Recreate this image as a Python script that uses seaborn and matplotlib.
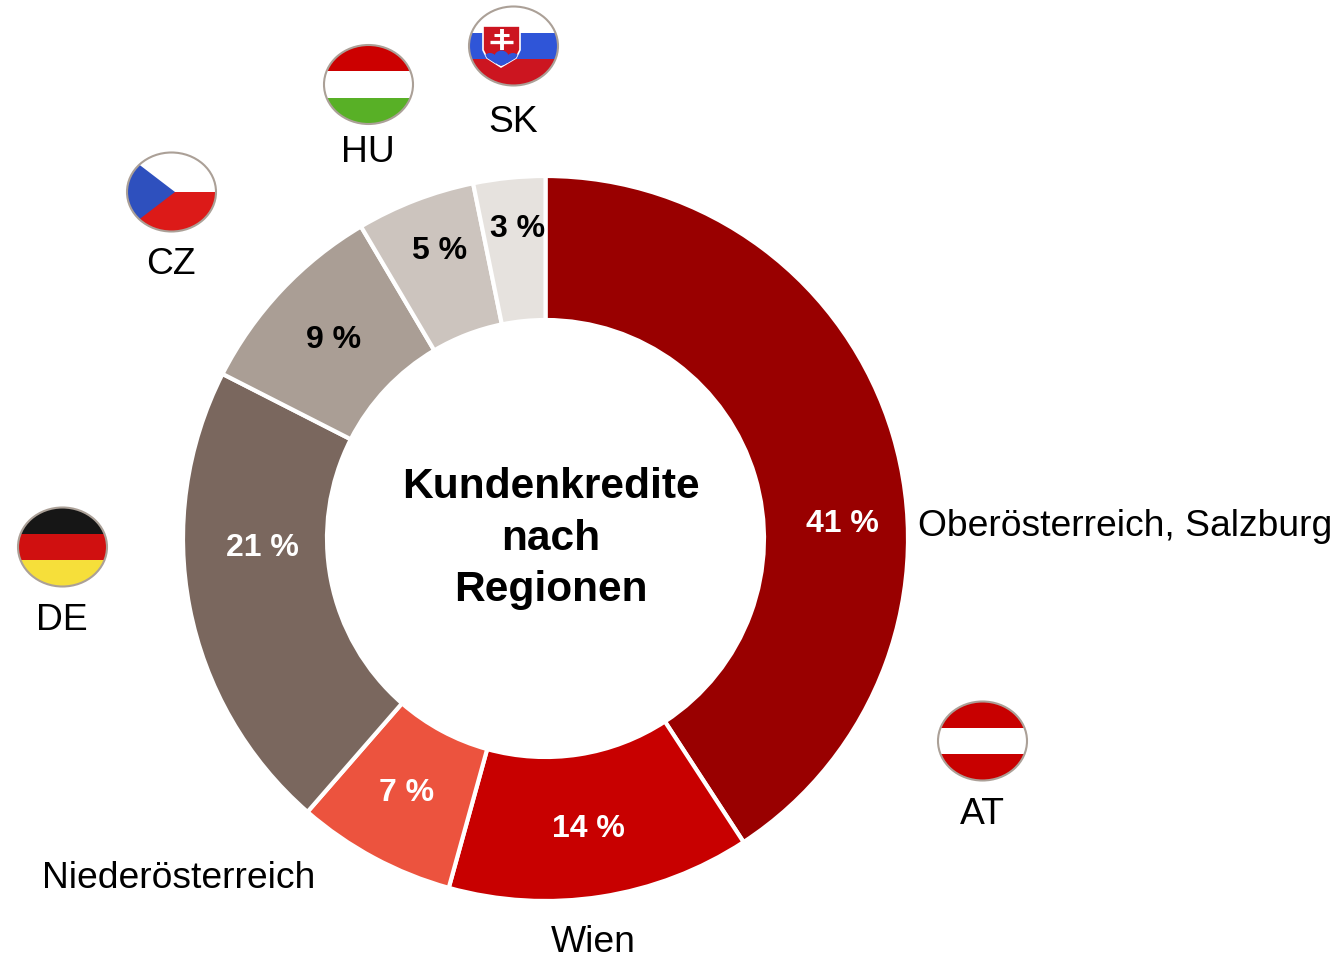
import matplotlib
matplotlib.use("Agg")
import matplotlib.pyplot as plt
from matplotlib.patches import Ellipse, Rectangle, Polygon, Circle
import seaborn as sns

regions = ["Oberösterreich, Salzburg", "Wien", "Niederösterreich", "DE", "CZ", "HU", "SK"]
# slice sizes as measured from the ring, the printed labels are rounded
shares = [40.8, 13.5, 7.1, 21.1, 9.0, 5.3, 3.2]
share_labels = ["41 %", "14 %", "7 %", "21 %", "9 %", "5 %", "3 %"]
colors = ["#990000", "#C80000", "#EC533E", "#7A675E", "#AA9E95", "#CCC4BE", "#E6E2DE"]
share_text = ["#FFFFFF", "#FFFFFF", "#FFFFFF", "#FFFFFF", "#000000", "#000000", "#000000"]
center_title = "Kundenkredite\nnach\nRegionen"

sns.set_theme(style="white")
plt.rcParams["font.family"] = ["Liberation Sans", "DejaVu Sans"]

fig = plt.figure(figsize=(13.4, 9.57), dpi=100)
ax = fig.add_axes([0, 0, 1, 1])

# y axis is flipped, so counterclock here runs clockwise on screen
ax.pie(shares, colors=sns.color_palette(colors), startangle=-90, counterclock=True,
	center=(545.5, 538.5), radius=362.5, frame=True,
	wedgeprops=dict(width=144, edgecolor="white", linewidth=3))
ax.set_xlim(0, 1340)
ax.set_ylim(957, 0)   # pixel coords, y down like the picture
ax.set_aspect("auto")
ax.axis("off")

share_pos = [(842.5, 524), (588, 829), (407, 793), (262, 548), (334, 340), (440, 251), (517.5, 229)]
for lab, col, (x, y) in zip(share_labels, share_text, share_pos):
	ax.text(x, y, lab, color=col, fontsize=23, fontweight="bold", ha="center", va="center")

ax.text(551, 538.5, center_title, fontsize=30.6, fontweight="bold", ha="center", va="center",
	linespacing=1.37, color="black")

label_pos = [(1125.5, 527), (593, 943), (179, 879), (62, 620), (171, 264), (368, 153), (513.5, 123)]
for name, (x, y) in zip(regions, label_pos):
	ax.text(x, y, name, fontsize=26.8, ha="center", va="center", color="black")
ax.text(982, 814, "AT", fontsize=26.8, ha="center", va="center", color="black")


def flag_base(cx, cy):
	clip = Ellipse((cx, cy), 89, 79, facecolor="white", edgecolor="none", zorder=3)
	ax.add_patch(clip)
	return clip


def flag_ring(cx, cy):
	ax.add_patch(Ellipse((cx, cy), 89, 79, facecolor="none", edgecolor="#ABA097", linewidth=1.5, zorder=6))


def stripes(cx, cy, cols):
	clip = flag_base(cx, cy)
	h = 79 / len(cols)
	for i, c in enumerate(cols):
		r = Rectangle((cx - 46, cy - 39.5 + i * h), 92, h, facecolor=c, edgecolor="none", zorder=4)
		ax.add_patch(r)
		r.set_clip_path(clip)
	flag_ring(cx, cy)


stripes(982.5, 741, ["#C80000", "#FFFFFF", "#C80000"])
stripes(62.5, 547, ["#161616", "#D01010", "#F6DF3A"])
stripes(368.5, 84.5, ["#CC0000", "#FFFFFF", "#58B026"])
stripes(513.5, 46, ["#FFFFFF", "#2F55D8", "#CC1520"])

# slovak shield
shield = Polygon([(483, 26), (520, 26), (520, 50), (516, 58), (501, 67), (487, 58), (483, 50)],
	facecolor="#CC1520", edgecolor="white", linewidth=1.2, zorder=5)
ax.add_patch(shield)
for hx, hy, hr in [(490, 60, 7), (501.5, 58, 7.5), (513, 60, 7)]:
	c = Circle((hx, hy), hr, facecolor="#2F55D8", edgecolor="none", zorder=5.2)
	ax.add_patch(c)
	c.set_clip_path(shield)
ax.plot([501.5, 501.5], [29, 50], color="white", lw=2.8, zorder=5.5, solid_capstyle="butt")
ax.plot([494, 509], [35, 35], color="white", lw=2.2, zorder=5.5, solid_capstyle="butt")
ax.plot([490, 513], [42, 42], color="white", lw=2.4, zorder=5.5, solid_capstyle="butt")

# czech flag
clip = flag_base(171.5, 192)
r = Rectangle((125, 192), 92, 41, facecolor="#DC1A18", edgecolor="none", zorder=4)
ax.add_patch(r)
r.set_clip_path(clip)
t = Polygon([(124, 153), (175, 192), (124, 231)], facecolor="#2E50BE", edgecolor="none", zorder=5)
ax.add_patch(t)
t.set_clip_path(clip)
flag_ring(171.5, 192)

fig.savefig("out.png", dpi=100, facecolor="white")
